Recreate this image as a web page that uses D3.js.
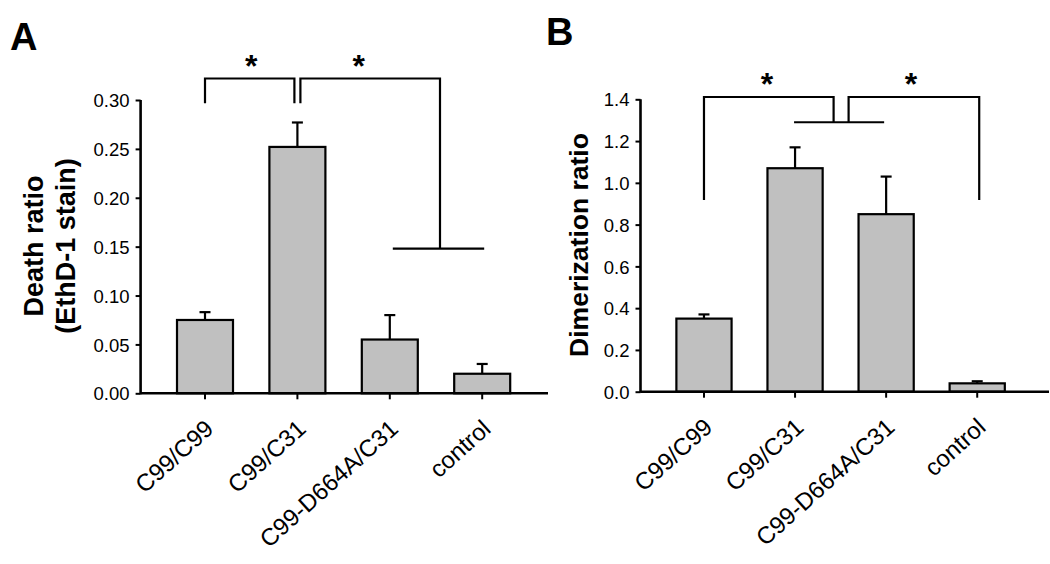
<!DOCTYPE html>
<html>
<head>
<meta charset="utf-8">
<script src="https://cdn.jsdelivr.net/npm/d3@7"></script>
<style>
  html, body { margin: 0; padding: 0; background: #fff; }
  svg { display: block; }
  text { font-family: "Liberation Sans", Arial, sans-serif; fill: #000; }
</style>
</head>
<body>
<svg id="chart" width="1050" height="564"></svg>
<script>
// ---------------- data ----------------
const categories = ["C99/C99", "C99/C31", "C99-D664A/C31", "control"];

const deathRatio = [0.075, 0.252, 0.055, 0.020];
const deathError = [0.008, 0.025, 0.025, 0.010];
const deathTicks = [0.00, 0.05, 0.10, 0.15, 0.20, 0.25, 0.30];

const dimerRatio = [0.35, 1.07, 0.85, 0.04];
const dimerError = [0.02, 0.10, 0.18, 0.01];
const dimerTicks = [0.0, 0.2, 0.4, 0.6, 0.8, 1.0, 1.2, 1.4];

// significance brackets (value levels)
const deathBrackets = [0.322, 0.2966, 0.148];
const dimerBrackets = [1.411, 1.290, 0.918];

// ---------------- drawing ----------------
const svg = d3.select("#chart");
const FILL = "#c0c0c0";

function drawPanel(cfg) {
  const g = svg.append("g");
  const y = d3.scaleLinear().domain(cfg.yDomain).range([cfg.y0, cfg.y1]);
  const x = d3.scaleBand().domain(categories)
    .range([cfg.xStart, cfg.xBandEnd]).paddingInner(0.394).paddingOuter(0.394);
  const cx = c => x(c) + x.bandwidth() / 2;

  // bars
  g.selectAll("rect.bar").data(categories).join("rect")
    .attr("x", c => x(c)).attr("width", x.bandwidth())
    .attr("y", (c, i) => y(cfg.values[i]))
    .attr("height", (c, i) => y(0) - y(cfg.values[i]))
    .attr("fill", FILL).attr("stroke", "#000").attr("stroke-width", 2.2);

  // error bars (upper only)
  const eb = g.selectAll("g.err").data(categories).join("g");
  eb.append("line")
    .attr("x1", c => cx(c)).attr("x2", c => cx(c))
    .attr("y1", (c, i) => y(cfg.values[i]))
    .attr("y2", (c, i) => y(cfg.values[i] + cfg.errors[i]))
    .attr("stroke", "#000").attr("stroke-width", 2.2);
  eb.append("line")
    .attr("x1", c => cx(c) - 5.5).attr("x2", c => cx(c) + 5.5)
    .attr("y1", (c, i) => y(cfg.values[i] + cfg.errors[i]))
    .attr("y2", (c, i) => y(cfg.values[i] + cfg.errors[i]))
    .attr("stroke", "#000").attr("stroke-width", 2.2);

  // y axis
  const yAxis = d3.axisLeft(y).tickValues(cfg.ticks).tickSize(5).tickPadding(6)
    .tickFormat(d3.format(cfg.fmt));
  const ya = g.append("g").attr("transform", `translate(${cfg.xStart},0)`).call(yAxis);
  ya.select(".domain").remove();
  ya.selectAll(".tick line").attr("stroke", "#000").attr("stroke-width", 2);
  ya.selectAll(".tick text").style("font-size", "18.5px").attr("dy", "0.36em");
  g.append("line").attr("x1", cfg.xStart).attr("x2", cfg.xStart)
    .attr("y1", y(cfg.yDomain[0]) + 1).attr("y2", y(cfg.yDomain[1]))
    .attr("stroke", "#000").attr("stroke-width", 2.6);

  // x axis
  g.append("line").attr("x1", cfg.xStart).attr("x2", cfg.xAxisEnd)
    .attr("y1", y(0)).attr("y2", y(0))
    .attr("stroke", "#000").attr("stroke-width", 2.6);
  g.selectAll("line.xt").data(categories).join("line")
    .attr("x1", c => cx(c)).attr("x2", c => cx(c))
    .attr("y1", y(0)).attr("y2", y(0) + 6)
    .attr("stroke", "#000").attr("stroke-width", 2);
  g.selectAll("text.xl").data(categories).join("text")
    .attr("text-anchor", "end")
    .attr("transform", c => `translate(${cx(c) + 10},${y(0) + 37.5}) rotate(-42)`)
    .style("font-size", "24px")
    .text(c => c);

  // y label
  const yl = g.append("text")
    .attr("transform", `translate(${cfg.labelX},${cfg.labelY}) rotate(-90)`)
    .attr("text-anchor", "middle")
    .style("font-size", cfg.labelSize).style("font-weight", "bold");
  cfg.label.forEach((t, i) => {
    yl.append("tspan").attr("x", 0).attr("y", i * 32).text(t);
  });

  // panel letter
  g.append("text").attr("x", cfg.letterX).attr("y", cfg.letterY)
    .style("font-size", "38px").style("font-weight", "bold").text(cfg.letter);

  return { g, x, y, cx };
}

function bracketPath(pts) {
  return d3.line()(pts);
}

function star(g, xp, yp) {
  g.append("text").attr("x", xp).attr("y", yp).attr("text-anchor", "middle")
    .style("font-size", "32px").style("font-weight", "bold").text("*");
}

// ---- Panel A ----
const A = drawPanel({
  values: deathRatio, errors: deathError, ticks: deathTicks, fmt: ".2f",
  yDomain: [0, 0.30], y0: 393.3, y1: 100,
  xStart: 140.6, xBandEnd: 546.6, xAxisEnd: 548,
  label: ["Death ratio", "(EthD-1 stain)"], labelX: 43, labelY: 246, labelSize: "27px",
  letter: "A", letterX: 10, letterY: 50
});
{
  const { g, y, cx } = A;
  const [top, drop, low] = deathBrackets;
  const c0 = cx(categories[0]), c1 = cx(categories[1]), c2 = cx(categories[2]), c3 = cx(categories[3]);
  const mid23 = (c2 + c3) / 2 + 4;
  g.append("path").attr("d", bracketPath([[c0, y(drop)], [c0, y(top)], [c1 - 3, y(top)], [c1 - 3, y(drop)]]))
    .attr("fill", "none").attr("stroke", "#000").attr("stroke-width", 2.2);
  g.append("path").attr("d", bracketPath([[c1 + 3, y(drop)], [c1 + 3, y(top)], [mid23, y(top)], [mid23, y(low)]]))
    .attr("fill", "none").attr("stroke", "#000").attr("stroke-width", 2.2);
  g.append("path").attr("d", bracketPath([[c2 + 3, y(low)], [c3 + 2, y(low)]]))
    .attr("fill", "none").attr("stroke", "#000").attr("stroke-width", 2.2);
  star(g, (c0 + c1) / 2 + 0, y(top) - 1);
  star(g, (c1 + mid23) / 2 - 10, y(top) - 1);
}

// ---- Panel B ----
const B = drawPanel({
  values: dimerRatio, errors: dimerError, ticks: dimerTicks, fmt: ".1f",
  yDomain: [0, 1.4], y0: 391.7, y1: 99.3,
  xStart: 640.5, xBandEnd: 1040.7, xAxisEnd: 1049,
  label: ["Dimerization ratio"], labelX: 588, labelY: 245, labelSize: "26.5px",
  letter: "B", letterX: 546, letterY: 45
});
{
  const { g, y, cx } = B;
  const [top, mid, bottom] = dimerBrackets;
  const c0 = cx(categories[0]), c1 = cx(categories[1]), c2 = cx(categories[2]), c3 = cx(categories[3]);
  const m = (c1 + c2) / 2;
  g.append("path").attr("d", bracketPath([[c0, y(bottom)], [c0, y(top)], [m - 7, y(top)], [m - 7, y(mid)]]))
    .attr("fill", "none").attr("stroke", "#000").attr("stroke-width", 2.2);
  g.append("path").attr("d", bracketPath([[m + 8, y(mid)], [m + 8, y(top)], [c3 + 2, y(top)], [c3 + 2, y(bottom)]]))
    .attr("fill", "none").attr("stroke", "#000").attr("stroke-width", 2.2);
  g.append("path").attr("d", bracketPath([[c1 - 1, y(mid)], [c2 - 2, y(mid)]]))
    .attr("fill", "none").attr("stroke", "#000").attr("stroke-width", 2.2);
  star(g, 767, y(top) - 2);
  star(g, 911, y(top) - 2);
}
</script>
</body>
</html>
